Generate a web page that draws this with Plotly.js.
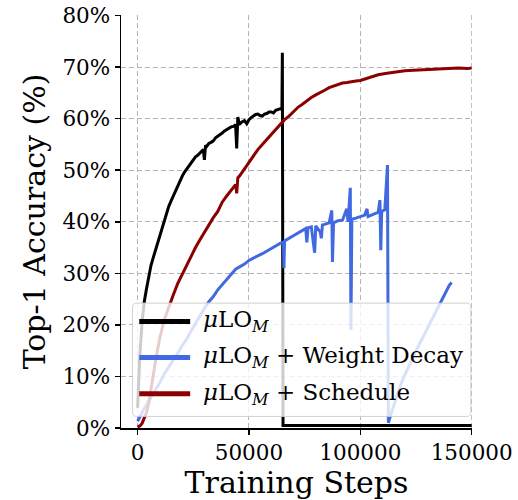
<!DOCTYPE html>
<html>
<head>
<meta charset="utf-8">
<script src="https://cdn.plot.ly/plotly-3.0.1.min.js"></script>
<style>html,body{margin:0;padding:0;background:#fff;}#chart{width:518px;height:500px;}</style>
</head>
<body>
<div id="chart"></div>
<script>
// ---- data (accuracy in %) ----
const baseSteps = [0, 500, 1000, 2000, 3000, 4000, 5000, 6000, 7000, 8000, 9000, 10000, 11000, 12000, 13000, 14000, 15000, 16000, 17000, 18000, 19000, 20000, 21000, 22000, 23000, 24000, 25000, 26000, 27000, 28000, 29500, 30000, 30500, 31000, 32000, 33000, 34000, 35000, 36000, 37000, 38000, 39000, 40000, 41000, 42000, 43000, 44000, 44500, 45000, 45500, 46000, 47000, 48000, 49000, 50000, 51000, 52000, 53000, 54000, 55000, 56000, 57000, 58000, 59000, 60000, 61000, 62000, 63000, 64000, 64800, 65000, 65300, 80000, 100000, 120000, 140000, 150000];
const baseAcc = [3.9, 9, 14, 20.5, 24.5, 27, 29.5, 31.5, 33, 34.5, 36, 37.5, 39, 40.5, 41.8, 43, 44, 45, 46, 47, 48, 48.8, 49.6, 50.2, 50.9, 51.4, 52.1, 52.6, 52.9, 53.3, 54, 52, 54.8, 54.6, 55.2, 55.4, 55.7, 56.3, 56.6, 56.8, 57.2, 57.6, 57.9, 58.2, 58.4, 58.5, 58.8, 54.2, 60.3, 59.3, 59.0, 59.4, 59.6, 59.0, 59.8, 60.2, 60.5, 60.8, 60.9, 60.6, 60.5, 60.9, 61.0, 61.3, 61.3, 61.1, 61.6, 61.7, 61.9, 61.8, 72.8, 0.5, 0.5, 0.5, 0.5, 0.5, 0.5];

const wdSteps = [0, 1000, 2000, 3000, 4000, 5000, 6000, 7000, 8000, 9000, 10000, 12000, 14000, 16000, 18000, 20000, 22000, 24000, 26000, 28000, 30000, 32000, 34000, 36000, 38000, 40000, 42000, 44000, 46000, 48000, 50000, 52000, 54000, 56000, 58000, 60000, 62000, 64000, 65500, 65700, 66000, 68000, 70000, 72000, 74000, 75500, 76000, 76500, 78000, 79500, 80000, 82000, 82500, 83000, 84000, 86000, 87200, 87500, 88000, 90000, 92000, 93900, 94500, 95500, 95800, 96200, 98000, 100000, 102000, 103000, 103500, 106000, 108000, 108800, 109200, 109600, 111000, 112200, 112600, 114000, 116000, 118000, 120000, 122000, 124000, 126000, 128000, 130000, 132000, 134000, 136000, 138000, 140000, 141000];
const wdAcc = [1.3, 2.2, 3.0, 3.8, 4.5, 5.2, 5.8, 6.5, 7.3, 8.0, 8.8, 10.5, 11.8, 13.0, 14.5, 16.0, 17.2, 18.8, 20.3, 21.8, 23.2, 24.5, 25.5, 26.8, 27.8, 28.8, 29.8, 30.8, 31.3, 31.8, 32.5, 33.0, 33.4, 33.8, 34.3, 34.8, 35.2, 35.8, 36.0, 31.0, 36.3, 36.8, 37.3, 37.8, 38.2, 38.7, 36.0, 38.8, 39.0, 34.0, 39.2, 38.0, 36.8, 39.4, 39.5, 39.8, 42.2, 32.2, 39.8, 40.2, 40.3, 42.5, 40.0, 46.6, 19.0, 40.5, 40.7, 41.0, 41.3, 42.5, 41.0, 41.5, 41.8, 44.2, 34.5, 42.0, 42.3, 51.0, 1.0, 3.0, 5.5, 8.3, 10.3, 12.3, 14.0, 15.8, 17.5, 19.2, 21.0, 22.8, 24.6, 26.3, 27.7, 28.2];

const schSteps = [0, 1000, 2000, 3000, 4000, 5000, 6000, 7000, 8000, 9000, 10000, 12000, 14000, 16000, 18000, 20000, 22000, 24000, 26000, 28000, 30000, 32000, 34000, 36000, 38000, 40000, 42000, 44000, 44500, 45000, 46000, 48000, 50000, 52000, 54000, 56000, 58000, 60000, 62000, 64000, 66000, 68000, 70000, 72000, 74000, 76000, 78000, 80000, 82000, 84000, 86000, 88000, 90000, 92000, 94000, 96000, 98000, 100000, 104000, 108000, 112000, 116000, 120000, 124000, 128000, 132000, 136000, 140000, 144000, 148000, 150000];
const schAcc = [0.2, 0.4, 0.9, 1.8, 3.0, 4.8, 7.2, 10.0, 12.8, 15.3, 17.5, 21.0, 23.5, 25.8, 28.0, 29.8, 31.5, 33.3, 35.0, 36.5, 38.0, 39.5, 40.8, 42.0, 43.8, 45.0, 46.0, 47.2, 45.5, 48.5, 49.0, 50.3, 51.6, 52.8, 54.0, 55.0, 56.0, 57.0, 58.0, 59.0, 59.8, 60.5, 61.4, 62.2, 62.8, 63.5, 64.1, 64.6, 65.0, 65.5, 66.0, 66.3, 66.6, 66.9, 67.0, 67.2, 67.3, 67.4, 68.0, 68.5, 68.8, 69.1, 69.3, 69.4, 69.5, 69.6, 69.7, 69.8, 69.8, 69.7, 69.8];

const seriesNames = ['<i>μ</i>LO<sub><i>M</i></sub>', '<i>μ</i>LO<sub><i>M</i></sub> + Weight Decay', '<i>μ</i>LO<sub><i>M</i></sub> + Schedule'];
const seriesColors = ['#000000', '#4169E1', '#8B0000'];

const yTickVals = [0, 10, 20, 30, 40, 50, 60, 70, 80];
const yTickText = ['0%', '10%', '20%', '30%', '40%', '50%', '60%', '70%', '80%'];
const xTickVals = [0, 50000, 100000, 150000];
const xTickText = ['0', '50000', '100000', '150000'];

const FONT = 'DejaVu Serif, serif';
const GRID = '#b5b5b5';
const GRIDDASH = '5px,3px';

const traces = [
  {x: baseSteps, y: baseAcc, name: seriesNames[0], mode: 'lines', line: {color: seriesColors[0], width: 3}},
  {x: wdSteps, y: wdAcc, name: seriesNames[1], mode: 'lines', line: {color: seriesColors[1], width: 3}},
  {x: schSteps, y: schAcc, name: seriesNames[2], mode: 'lines', line: {color: seriesColors[2], width: 3}}
];

// custom legend (matplotlib style) in paper coordinates
const lx0 = 0.033, lx1 = 0.9966, ly0 = 0.028, ly1 = 0.3024;
const rx = 0.012, ry = 0.010;
const legendPath = `M${lx0+rx},${ly0} L${lx1-rx},${ly0} Q${lx1},${ly0} ${lx1},${ly0+ry} L${lx1},${ly1-ry} Q${lx1},${ly1} ${lx1-rx},${ly1} L${lx0+rx},${ly1} Q${lx0},${ly1} ${lx0},${ly1-ry} L${lx0},${ly0+ry} Q${lx0},${ly0} ${lx0+rx},${ly0} Z`;
const rowY = [0.258, 0.1708, 0.083];
const shapes = [
  // right-edge grid line at the last x tick
  {type: 'line', xref: 'x', yref: 'paper', x0: xTickVals[3], x1: xTickVals[3], y0: 0, y1: 1, line: {color: GRID, width: 1, dash: GRIDDASH}, layer: 'below'},
  {type: 'path', xref: 'paper', yref: 'paper', path: legendPath, fillcolor: 'rgba(255,255,255,0.8)', line: {color: 'rgba(204,204,204,0.9)', width: 1}, layer: 'above'}
];
const annotations = [];
for (let i = 0; i < 3; i++) {
  shapes.push({type: 'line', xref: 'paper', yref: 'paper', x0: 0.052, x1: 0.197, y0: rowY[i], y1: rowY[i], line: {color: seriesColors[i], width: 5}, layer: 'above'});
  annotations.push({xref: 'paper', yref: 'paper', x: 0.229, y: rowY[i], xanchor: 'left', yanchor: 'middle', text: seriesNames[i], showarrow: false, font: {family: FONT, size: 23, color: '#000'}});
}

const layout = {
  width: 518, height: 500,
  margin: {l: 120.7, r: 46.3, t: 15, b: 71.7},
  paper_bgcolor: '#fff', plot_bgcolor: '#fff',
  showlegend: false,
  font: {family: FONT, color: '#000'},
  xaxis: {
    range: [-7450, 150150],
    tickvals: xTickVals, ticktext: xTickText,
    showline: true, linecolor: '#000', linewidth: 1.5,
    ticks: 'outside', ticklen: 5, tickwidth: 1.5, tickcolor: '#000',
    showgrid: true, gridcolor: GRID, griddash: GRIDDASH, gridwidth: 1,
    zeroline: false,
    tickfont: {family: FONT, size: 21.5, color: '#000'},
    title: {text: 'Training Steps', font: {family: FONT, size: 30, color: '#000'}, standoff: 8}
  },
  yaxis: {
    range: [0, 80.1],
    tickvals: yTickVals, ticktext: yTickText,
    showline: true, linecolor: '#000', linewidth: 1.5,
    ticks: 'outside', ticklen: 5, tickwidth: 1.5, tickcolor: '#000',
    showgrid: true, gridcolor: GRID, griddash: GRIDDASH, gridwidth: 1,
    zeroline: false,
    tickfont: {family: FONT, size: 21.5, color: '#000'},
    title: {text: 'Top-1 Accuracy (%)', font: {family: FONT, size: 30, color: '#000'}, standoff: 8}
  },
  shapes: shapes,
  annotations: annotations
};

Plotly.newPlot('chart', traces, layout, {displayModeBar: false, staticPlot: true});
</script>
</body>
</html>
